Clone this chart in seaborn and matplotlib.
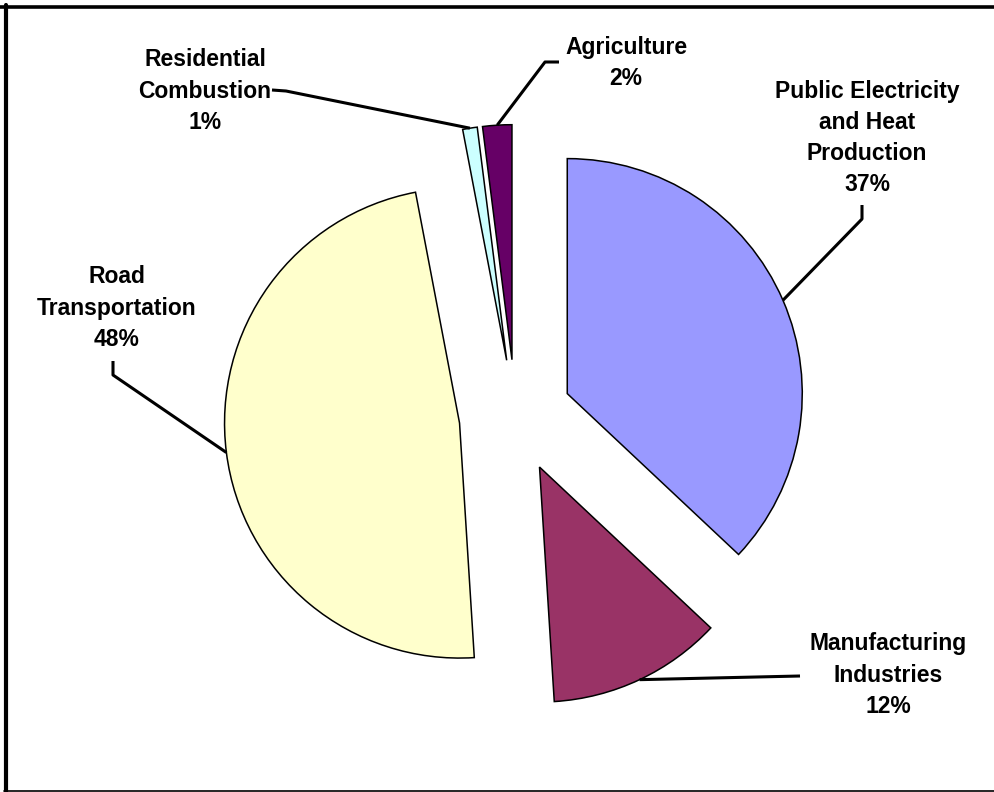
import matplotlib
matplotlib.use("Agg")
import matplotlib.pyplot as plt
import seaborn as sns
import numpy as np

# Emission shares by source sector
sectors = ["Public Electricity\nand Heat\nProduction", "Manufacturing\nIndustries",
           "Road\nTransportation", "Residential\nCombustion", "Agriculture"]
shares = [37, 12, 48, 1, 2]
colors = ["#9999FF", "#993366", "#FFFFCC", "#CCFFFF", "#660066"]

sns.set_theme(style="white")
plt.rcParams["font.family"] = ["Liberation Sans", "DejaVu Sans"]

W, H = 994, 792
fig = plt.figure(figsize=(W / 100, H / 100), dpi=100)
ax = fig.add_axes([0, 0, 1, 1])


def px(x, y):
    """Convert image-style pixel coordinates (y down) to data coordinates."""
    return x, H - y


R = 235
center = px(515.5, 416)
explode_frac = 0.24

wedges, _ = ax.pie(shares, colors=colors, startangle=90, counterclock=False,
                   explode=[explode_frac * R] * len(shares), radius=R, center=center,
                   frame=True,
                   wedgeprops=dict(edgecolor="black", linewidth=1.1))
ax.set_xlim(0, W)
ax.set_ylim(0, H)
ax.set_aspect("equal")
ax.axis("off")

# label block centres and leader elbows (image pixel coords)
label_pos = [(867, 138), (888, 675), (117, 308), (205, 91), (626, 63)]
elbows = [
    [(862, 205), (862, 219)],
    [(800, 676)],
    [(113, 361), (113, 375)],
    [(272, 90), (286, 91)],
    [(559, 62), (545, 62)],
]

for w, name, val, (lx, ly), elb in zip(wedges, sectors, shares, label_pos, elbows):
    tm = np.deg2rad(0.5 * (w.theta1 + w.theta2))
    cx, cy = w.center
    anchor = (cx + w.r * np.cos(tm), cy + w.r * np.sin(tm))
    pts = [px(*p) for p in elb] + [anchor]
    xs, ys = zip(*pts)
    ax.plot(xs, ys, color="black", lw=2.2, solid_capstyle="butt", zorder=1)
    tx, ty = px(lx, ly)
    ax.text(tx, ty, f"{name}\n{val}%", ha="center", va="center",
            multialignment="center", fontsize=16.5, fontweight="bold",
            color="black", linespacing=1.45)

# outer frame
fig.add_artist(plt.Line2D([0, 1], [1 - 7 / H, 1 - 7 / H], color="black", lw=2.6,
                          transform=fig.transFigure))
fig.add_artist(plt.Line2D([6 / W, 6 / W], [0, 1 - 5 / H], color="black", lw=3.0,
                          transform=fig.transFigure))
fig.add_artist(plt.Line2D([4 / W, 1], [1 - 791 / H, 1 - 791 / H], color="black", lw=1.2,
                          transform=fig.transFigure))

fig.savefig("out.png", dpi=100, facecolor="white")
